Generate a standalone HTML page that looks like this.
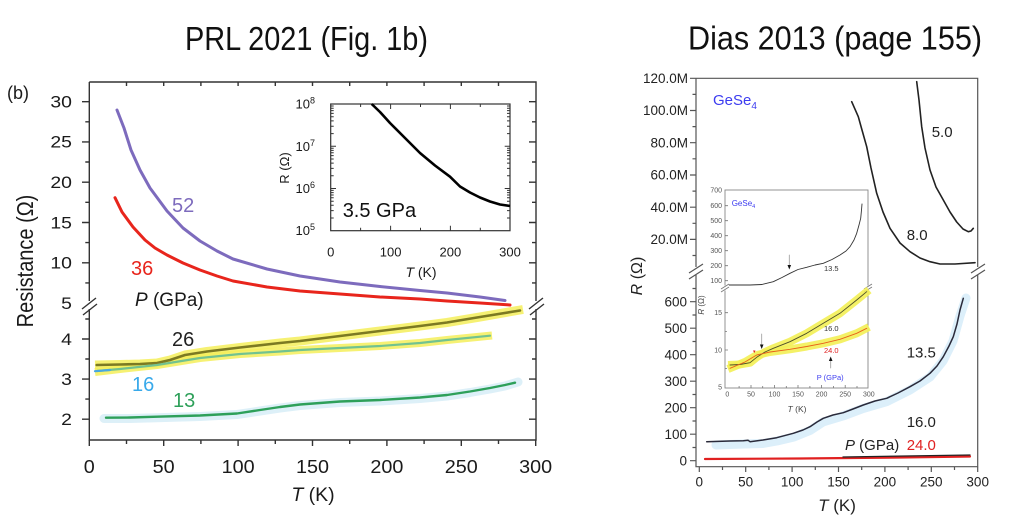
<!DOCTYPE html>
<html><head><meta charset="utf-8"><style>
html,body{margin:0;padding:0;background:#fff;}
svg{display:block;font-family:"Liberation Sans",sans-serif;}
</style></head><body>
<svg width="1023" height="519" viewBox="0 0 1023 519" xmlns="http://www.w3.org/2000/svg">
<rect width="1023" height="519" fill="#fff"/>

<!-- Titles -->
<text x="185" y="50" font-size="33" textLength="243" lengthAdjust="spacingAndGlyphs" fill="#111">PRL 2021 (Fig. 1b)</text>
<text x="688" y="49.5" font-size="33" textLength="294" lengthAdjust="spacingAndGlyphs" fill="#111">Dias 2013 (page 155)</text>

<!-- ============ LEFT CHART ============ -->
<g fill="none" stroke="#333" stroke-width="1.4">
  <path d="M89.3 82V301M89.3 309V440H536V309M536 301V82H89.3"/>
  <path d="M82 101.7H89.3M82 141.9H89.3M82 182.2H89.3M82 222.5H89.3M82 262.8H89.3M82 339H89.3M82 379.1H89.3M82 419.2H89.3"/>
  <path d="M85.3 121.8H89.3M85.3 162H89.3M85.3 202.3H89.3M85.3 242.6H89.3M85.3 282.9H89.3M85.3 319H89.3M85.3 359H89.3M85.3 399.1H89.3"/>
  <path d="M529 101.7H536M529 141.9H536M529 182.2H536M529 222.5H536M529 262.8H536M529 339H536M529 379.1H536M529 419.2H536"/>
  <path d="M532 121.8H536M532 162H536M532 202.3H536M532 242.6H536M532 282.9H536M532 319H536M532 359H536M532 399.1H536"/>
  <path d="M126.5 82V86M163.7 82V86M200.9 82V86M238.1 82V86M275.3 82V86M312.5 82V86M349.7 82V86M386.9 82V86M424.1 82V86M461.3 82V86M498.5 82V86"/>
  <path d="M89.3 440V446M163.7 440V446M238.1 440V446M312.5 440V446M386.9 440V446M461.3 440V446M535.7 440V446"/>
  <path d="M126.5 440V444M200.9 440V444M275.3 440V444M349.7 440V444M424.1 440V444M498.5 440V444"/>
  <path d="M82 309L96 298M83 315L97 304"/>
  <path d="M529 309L543 298M530 315L544 304"/>
</g>

<g font-size="16.5" fill="#1a1a1a" text-anchor="end">
  <text x="72" y="107.5" textLength="21.6" lengthAdjust="spacingAndGlyphs">30</text>
  <text x="72" y="147.7" textLength="21.6" lengthAdjust="spacingAndGlyphs">25</text>
  <text x="72" y="188" textLength="21.6" lengthAdjust="spacingAndGlyphs">20</text>
  <text x="72" y="228.3" textLength="21.6" lengthAdjust="spacingAndGlyphs">15</text>
  <text x="72" y="268.6" textLength="21.6" lengthAdjust="spacingAndGlyphs">10</text>
  <text x="72" y="309" textLength="10.8" lengthAdjust="spacingAndGlyphs">5</text>
  <text x="72" y="344.8" textLength="10.8" lengthAdjust="spacingAndGlyphs">4</text>
  <text x="72" y="384.9" textLength="10.8" lengthAdjust="spacingAndGlyphs">3</text>
  <text x="72" y="425" textLength="10.8" lengthAdjust="spacingAndGlyphs">2</text>
</g>
<g font-size="18.5" fill="#1a1a1a" text-anchor="middle">
  <text x="89.3" y="473" textLength="11" lengthAdjust="spacingAndGlyphs">0</text>
  <text x="163.7" y="473" textLength="22" lengthAdjust="spacingAndGlyphs">50</text>
  <text x="238.1" y="473" textLength="33" lengthAdjust="spacingAndGlyphs">100</text>
  <text x="312.5" y="473" textLength="33" lengthAdjust="spacingAndGlyphs">150</text>
  <text x="386.9" y="473" textLength="33" lengthAdjust="spacingAndGlyphs">200</text>
  <text x="461.3" y="473" textLength="33" lengthAdjust="spacingAndGlyphs">250</text>
  <text x="535.7" y="473" textLength="33" lengthAdjust="spacingAndGlyphs">300</text>
</g>
<text x="313" y="501" font-size="19.5" text-anchor="middle" fill="#1a1a1a"><tspan font-style="italic">T</tspan> (K)</text>
<text x="7" y="99" font-size="18" fill="#1a1a1a">(b)</text>
<text transform="translate(33,261) scale(1.17,1) rotate(-90)" text-anchor="middle" font-size="20" fill="#1a1a1a">Resistance (Ω)</text>

<g fill="none" stroke-linecap="round" stroke-linejoin="round">
  <path stroke="#7d6bbd" stroke-width="3" d="M117 110L124 128L131 150L140 170L150 188L167 211L183 228L200 241L217 251L233 259L267 269L300 276L340 282L380 286.5L420 290.5L447 293L480 297L505 300.5"/>
  <path stroke="#e8251c" stroke-width="3" d="M115 197.7L122 212L133 227L145 240L155 248L167 255L183 263L200 270L217 276L233 281L267 287L300 291L340 294L380 297L420 299L447 301L480 303L510 305"/>
  <path stroke="#f4ef5a" stroke-opacity="0.85" stroke-width="9" stroke-linecap="butt" d="M95 365L120 364.5L140 364L157 363L170 360L185 355L207 351.5L240 347.5L280 343L300 341L340 336L380 331L420 326L447 322.5L480 317L523 309.5"/>
  <path stroke="#f4ef5a" stroke-opacity="0.85" stroke-width="8" stroke-linecap="butt" d="M95 372L120 369L157 365L200 358L240 354L280 351.5L300 350L340 348L380 346L420 343L447 340L492 335.5"/>
  <path stroke="#7c7a22" stroke-width="2.6" d="M96.7 365L120 364.5L140 364L157 363L170 360L185 355L207 351.5L240 347.5L280 343L300 341L340 336L380 331L420 326L447 322.5L480 317L520 310.5"/>
  <path stroke="#72c290" stroke-width="2.2" d="M97 371L120 369L157 365L200 358L240 354L280 351.5L300 350L340 348L380 346L420 343L447 340L490 335.7"/>
  <path stroke="#4aa8e0" stroke-width="2.2" d="M95 371.2L110 370"/>
  <path stroke="#ddf0f8" stroke-width="9" d="M104 418.5L130 418.5L157 417.7L200 416.5L237 414.5L260 411L280 408L300 405.5L340 402.5L380 401L420 398.5L447 396L470 392.5L490 389L505 386L518 382"/>
  <path stroke="#2ea05a" stroke-width="2.4" d="M106 417.7L130 417.5L157 416.7L200 415.5L237 413.5L260 410L280 407L300 404.5L340 401.5L380 400L420 397.5L447 395L470 391.5L490 388L505 385L515 382.7"/>
</g>
<g font-size="20">
  <text x="172" y="212" fill="#7d6bbd">52</text>
  <text x="131" y="275" fill="#e8251c">36</text>
  <text x="172" y="346" fill="#222">26</text>
  <text x="132" y="391" fill="#38a9ea">16</text>
  <text x="173" y="407" fill="#2ea05a">13</text>
</g>
<text x="135" y="306" font-size="19" fill="#1a1a1a"><tspan font-style="italic">P</tspan> (GPa)</text>

<!-- left inset -->
<rect x="330.7" y="104" width="179.3" height="126.7" fill="#fff" stroke="#333" stroke-width="1.2"/>
<g stroke="#333" stroke-width="1" fill="none">
  <path d="M330.7 146.3H336M330.7 188.5H336M510 146.3H504.7M510 188.5H504.7"/>
  <path d="M330.7 218H333.7M330.7 210.6H333.7M330.7 205.3H333.7M330.7 201.2H333.7M330.7 197.8H333.7M330.7 195H333.7M330.7 192.6H333.7M330.7 190.4H333.7M330.7 175.8H333.7M330.7 168.4H333.7M330.7 163.1H333.7M330.7 159H333.7M330.7 155.6H333.7M330.7 152.8H333.7M330.7 150.4H333.7M330.7 148.2H333.7M330.7 133.6H333.7M330.7 126.2H333.7M330.7 120.9H333.7M330.7 116.8H333.7M330.7 113.4H333.7M330.7 110.6H333.7M330.7 108.2H333.7M330.7 106H333.7"/>
  <path d="M510 218H507M510 210.6H507M510 205.3H507M510 201.2H507M510 197.8H507M510 195H507M510 192.6H507M510 190.4H507M510 175.8H507M510 168.4H507M510 163.1H507M510 159H507M510 155.6H507M510 152.8H507M510 150.4H507M510 148.2H507M510 133.6H507M510 126.2H507M510 120.9H507M510 116.8H507M510 113.4H507M510 110.6H507M510 108.2H507M510 106H507"/>
  <path d="M390.6 230.7V225.7M450.4 230.7V225.7M360.6 230.7V227.7M420.5 230.7V227.7M480.3 230.7V227.7M390.6 104V109M450.4 104V109M360.6 104V107M420.5 104V107M480.3 104V107"/>
</g>
<path fill="none" stroke="#000" stroke-width="2.6" stroke-linejoin="round" d="M371.7 104L380 112L390 123L405 138L420 153L435 165.5L450 176.7L460 186.5L470 192.5L480 197.5L490 201.5L500 204.5L510 206"/>
<g font-size="13" fill="#1a1a1a" text-anchor="end">
  <text x="315" y="108.5">10<tspan font-size="9" dy="-5">8</tspan></text>
  <text x="315" y="150.8">10<tspan font-size="9" dy="-5">7</tspan></text>
  <text x="315" y="193">10<tspan font-size="9" dy="-5">6</tspan></text>
  <text x="315" y="235.2">10<tspan font-size="9" dy="-5">5</tspan></text>
</g>
<g font-size="13" fill="#1a1a1a" text-anchor="middle">
  <text x="330.7" y="256.7">0</text>
  <text x="390.6" y="256.7">100</text>
  <text x="450.4" y="256.7">200</text>
  <text x="510" y="256.7">300</text>
</g>
<text x="421" y="277" font-size="14" text-anchor="middle" fill="#1a1a1a"><tspan font-style="italic">T</tspan> (K)</text>
<text transform="translate(289,168) rotate(-90)" text-anchor="middle" font-size="13" fill="#1a1a1a">R (Ω)</text>
<text x="342.7" y="217" font-size="20" fill="#111">3.5 GPa</text>

<!-- ============ RIGHT CHART ============ -->
<g fill="none" stroke="#555" stroke-width="1.2">
  <path d="M696 78.3V267M696 275V466.7H977.7V275M977.7 267V78.3H696"/>
  <path d="M690 78.3H696M690 110.5H696M690 142.7H696M690 175H696M690 207.2H696M690 239.4H696M690 301.7H696M690 328.2H696M690 354.7H696M690 381.2H696M690 407.7H696M690 434.2H696M690 460.7H696"/>
  <path d="M692.5 94.4H696M692.5 126.6H696M692.5 158.8H696M692.5 191.1H696M692.5 223.3H696M692.5 255.5H696M692.5 288.5H696M692.5 315H696M692.5 341.5H696M692.5 368H696M692.5 394.5H696M692.5 421H696M692.5 447.5H696"/>
  <path d="M699.3 466.7V472M745.7 466.7V472M792.1 466.7V472M838.5 466.7V472M884.9 466.7V472M931.3 466.7V472M977.7 466.7V472"/>
  <path d="M722.5 466.7V470M768.9 466.7V470M815.3 466.7V470M861.7 466.7V470M908.1 466.7V470M954.5 466.7V470"/>
  <path d="M689 273L703 264M689 279L703 270M971 273L985 264M971 279L985 270"/>
</g>
<g font-size="13.5" fill="#222" text-anchor="end">
  <text x="688" y="83">120.0M</text>
  <text x="688" y="115.2">100.0M</text>
  <text x="688" y="147.4">80.0M</text>
  <text x="688" y="179.7">60.0M</text>
  <text x="688" y="211.9">40.0M</text>
  <text x="688" y="244.1">20.0M</text>
  <text x="687" y="306.4">600</text>
  <text x="687" y="332.9">500</text>
  <text x="687" y="359.4">400</text>
  <text x="687" y="385.9">300</text>
  <text x="687" y="412.4">200</text>
  <text x="687" y="438.9">100</text>
  <text x="687" y="465.4">0</text>
</g>
<g font-size="13.5" fill="#222" text-anchor="middle">
  <text x="699.3" y="486.7">0</text>
  <text x="745.7" y="486.7">50</text>
  <text x="792.1" y="486.7">100</text>
  <text x="838.5" y="486.7">150</text>
  <text x="884.9" y="486.7">200</text>
  <text x="931.3" y="486.7">250</text>
  <text x="977.7" y="486.7">300</text>
</g>
<text x="837" y="511" font-size="17" text-anchor="middle" fill="#222"><tspan font-style="italic">T</tspan> (K)</text>
<text transform="translate(642,276) rotate(-90)" text-anchor="middle" font-size="16" fill="#222"><tspan font-style="italic">R</tspan> (Ω)</text>
<text x="713" y="105" font-size="15" fill="#3c3cf0">GeSe<tspan font-size="10" dy="4">4</tspan></text>

<g fill="none" stroke-linejoin="round" stroke-linecap="round">
  <path stroke="#222" stroke-width="1.6" d="M916.7 81.7L919 100L921.7 126.7L925 148L930 170L936 187L943.3 200L950 212L956.7 222L963 229L968.3 231.7L971 231L973.3 228.3"/>
  <path stroke="#222" stroke-width="1.6" d="M851.7 101.7L858.3 116.7L862 130L866.7 146.7L871 168L876.7 193.3L883 212L890 228.3L900 243L910 251.7L920 258L930 261.7L940 264L955 264L975 262.7"/>
  <path stroke="#dceffa" stroke-width="9" d="M716 445L730 444.5L745 444L763 443.5L777 441L794 437L810 430.5L823 422L843 416L863 408.5L887 401.5L910 390L930 377L943 361L953 341L960 316L966 298"/>
  <path stroke="#2a2a3a" stroke-width="1.5" d="M706.7 441.7L730 441L743.3 440.7L748 440.2L750 441.7L763 440L776.7 437.7L793.3 433.3L803 430L810 426.7L817 422L823.3 418.3L833 415L843.3 412.7L853 409L863.3 405L875 401L886.7 398.3L898 393L910 386.7L920 381L930 373.3L937 366L943.3 356.7L949 346L953.3 336.7L957 324L960 310L963.3 298.3"/>
  <path stroke="#e02020" stroke-width="2.2" d="M705 459L800 458.5L900 457.5L970 456.5"/>
  <path stroke="#222" stroke-width="1.3" d="M843 457L970 455"/>
</g>
<g font-size="15">
  <text x="906.7" y="240" fill="#222">8.0</text>
  <text x="931.7" y="137" fill="#222">5.0</text>
  <text x="906.7" y="357.5" fill="#222">13.5</text>
  <text x="906.7" y="427" fill="#222">16.0</text>
  <text x="906.7" y="450" fill="#e02020">24.0</text>
  <text x="845" y="450" fill="#222"><tspan font-style="italic">P</tspan> (GPa)</text>
</g>

<!-- right inset -->
<rect x="725" y="190" width="143" height="198" fill="#fff" stroke="#888" stroke-width="0.9"/>
<rect x="720" y="285.5" width="10" height="5" fill="#fff"/>
<rect x="863" y="285.5" width="10" height="5" fill="#fff"/>
<g fill="none" stroke="#777" stroke-width="0.8">
  <path d="M721 289L729 284M721 292L729 287M864 289L872 284M864 292L872 287"/>
  <path d="M725 205.7H728M725 220.7H728M725 235.7H728M725 250.7H728M725 265.7H728M725 280.7H728M725 312.7H728M725 350H728M725 331.4H727M725 368.5H727"/>
  <path d="M751 388V385M774.5 388V385M798 388V385M821.6 388V385M845.2 388V385M739.1 388V386M762.7 388V386M786.3 388V386M809.9 388V386M833.4 388V386M857 388V386"/>
</g>
<g font-size="7" fill="#555" text-anchor="end">
  <text x="722" y="192.5">700</text>
  <text x="722" y="208">600</text>
  <text x="722" y="223">500</text>
  <text x="722" y="238">400</text>
  <text x="722" y="253">300</text>
  <text x="722" y="268">200</text>
  <text x="722" y="283">100</text>
  <text x="722" y="315">15</text>
  <text x="722" y="352.5">10</text>
  <text x="722" y="389.5">5</text>
</g>
<g font-size="7" fill="#555" text-anchor="middle">
  <text x="727.3" y="396.7">0</text>
  <text x="751" y="396.7">50</text>
  <text x="774.5" y="396.7">100</text>
  <text x="798" y="396.7">150</text>
  <text x="821.6" y="396.7">200</text>
  <text x="845.2" y="396.7">250</text>
  <text x="868.8" y="396.7">300</text>
</g>
<text x="797" y="412" font-size="8.5" text-anchor="middle" fill="#444"><tspan font-style="italic">T</tspan> (K)</text>
<text transform="translate(704,305) rotate(-90)" text-anchor="middle" font-size="8" fill="#444"><tspan font-style="italic">R</tspan> (Ω)</text>
<text x="731.7" y="206" font-size="8" fill="#3c3cf0">GeSe<tspan font-size="5.5" dy="2">4</tspan></text>

<g fill="none" stroke-linejoin="round" stroke-linecap="round">
  <path stroke="#333" stroke-width="0.9" d="M729.3 285L750 285L762 284.5L773.3 281.7L782 277.5L790 273.3L798 269.5L806.7 267.3L815 265L823.3 263.3L832 259.5L840 255L846 251L850 246.7L854 240L856.7 233.3L859 225L860.7 218.3L861.5 210L862 204"/>
  <path stroke="#f3ef55" stroke-opacity="0.9" stroke-width="8" stroke-linecap="butt" d="M728 365L740 364.5L750 362.7L756.7 357.3L765 352L773.3 348.3L790 341.7L806.7 333.3L823.3 323.3L840 313.3L856.7 300L869 290"/>
  <path stroke="#f3ef55" stroke-opacity="0.9" stroke-width="8" stroke-linecap="butt" d="M728 369L745 362L756.7 355L770 352L790 349.3L806.7 346.5L823.3 343.3L840 339.3L856.7 333.3L869 327"/>
  <path stroke="#4e4e2a" stroke-width="0.9" d="M730 365L740 364.5L750 362.7L756.7 357.3L765 352L773.3 348.3L790 341.7L806.7 333.3L823.3 323.3L840 313.3L856.7 300L866.7 291.7"/>
  <path stroke="#e8601a" stroke-width="0.9" d="M730 368.3L745 362L756.7 355L770 352L790 349.3L806.7 346.5L823.3 343.3L840 339.3L856.7 333.3L866.7 328.3"/>
  <path stroke="#999" stroke-width="0.8" d="M789.3 255V266M761.7 334V345M830.7 368V360"/>
</g>
<g fill="#111">
  <path d="M787.5 265L791.1 265L789.3 269.5Z"/>
  <path d="M759.9 344.5L763.5 344.5L761.7 349Z"/>
  <path d="M828.9 361L832.5 361L830.7 356.5Z"/>
</g>
<path d="M753 350.5L755.5 350.5L754.3 353Z" fill="#e02020"/>
<g font-size="7.5">
  <text x="824" y="271" fill="#333">13.5</text>
  <text x="824" y="331" fill="#333">16.0</text>
  <text x="824" y="353" fill="#e02020">24.0</text>
  <text x="816.7" y="380" fill="#3c3cf0">P (GPa)</text>
</g>
</svg>
</body></html>
